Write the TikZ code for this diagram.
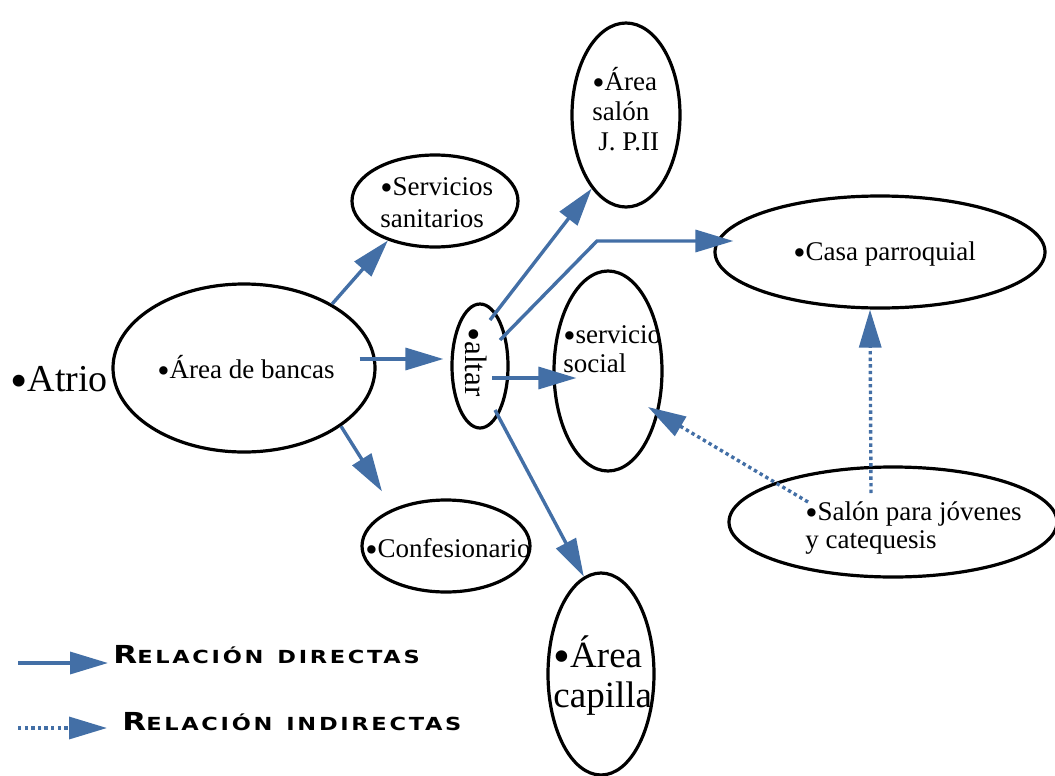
\documentclass[tikz,border=0pt]{standalone}
\usepackage{graphicx}
\usepackage{fontspec}
\setmainfont{Liberation Serif}
\newfontfamily\legfont[FakeStretch=1.25,LetterSpace=15]{DejaVu Sans}
\usetikzlibrary{shapes.geometric,arrows.meta}
\definecolor{flowblue}{RGB}{67,111,166}
\newcommand\bul{\raisebox{-0.16em}{\scalebox{1.3}{•}}}

\begin{document}
\begin{tikzpicture}[x=0.5pt,y=-0.5pt]
                \tikzset{ZoneStyle/.style={draw, ellipse, line width=1.6pt, inner sep=0pt}}
                \tikzset{TextStyle/.style={inner sep=0pt, anchor=base west, align=left, font=\fontsize{13.5pt}{15pt}\selectfont}}
                \tikzset{FlowStyle/.style={draw=flowblue, line width=1.7pt, -{Triangle[length=19pt,width=11pt]}}}
                \tikzset{LinkStyle/.style={FlowStyle, dash pattern=on 1.7pt off 1.6pt}}
                \useasboundingbox (0,0) rectangle (1055,776);
                \node[ZoneStyle, minimum width=131pt, minimum height=84pt] (bancas) at (244,368) {};
                \node[ZoneStyle, minimum width=83pt, minimum height=46pt] (servicios) at (435,201) {};
                \node[ZoneStyle, minimum width=84pt, minimum height=46pt] (confes) at (446,546) {};
                \node[ZoneStyle, minimum width=28pt, minimum height=62pt] (altar) at (480,366) {};
                \node[ZoneStyle, minimum width=54pt, minimum height=92pt] (salonjp) at (626,115) {};
                \node[ZoneStyle, minimum width=165pt, minimum height=56pt] (casa) at (880,252) {};
		\node[ZoneStyle, minimum width=54pt, minimum height=100pt] (social) at (608,371) {};
                \node[ZoneStyle, minimum width=164pt, minimum height=55pt] (jovenes) at (893,522) {};
		\node[ZoneStyle, minimum width=53pt, minimum height=101pt] (capilla) at (601,674) {};
                \node[TextStyle, font=\fontsize{19pt}{21pt}\selectfont] (atrioT) at (10,391) {\bul Atrio};
                \node[TextStyle] (bancasT) at (157,378) {\bul Área de bancas};
                \node[TextStyle, font=\fontsize{13.5pt}{16pt}\selectfont] (serviciosT) at (380,227) {\bul Servicios\\sanitarios};
                \node[TextStyle, anchor=center, rotate=-90, font=\fontsize{15.5pt}{17pt}\selectfont] (altarT) at (474,362) {\bul altar};
                \node[TextStyle] (confesT) at (365,557) {\bul Confesionario};
                \node[TextStyle] (salonjpT) at (592,150) {\bul Área\\salón\\\hspace*{3pt}J. P.II};
                \node[TextStyle] (casaT) at (793,260) {\bul Casa parroquial};
		\node[TextStyle, font=\fontsize{13.5pt}{14.5pt}\selectfont] (socialT) at (563,372) {\bul servicio\\social};
                \node[TextStyle, font=\fontsize{13.5pt}{14pt}\selectfont] (jovenesT) at (805,548) {\bul Salón para jóvenes\\y catequesis};
		\node[TextStyle, font=\fontsize{18.5pt}{20pt}\selectfont] (capillaT) at (553,707) {\bul Área\\capilla};
                \node[TextStyle, font=\legfont\bfseries] (directas) at (113,663) {{\fontsize{12.4pt}{14pt}\selectfont R}{\fontsize{9pt}{11pt}\selectfont ELACIÓN\hspace{7pt}DIRECTAS}};
                \node[TextStyle, font=\legfont\bfseries] (indirectas) at (122,730) {{\fontsize{12.4pt}{14pt}\selectfont R}{\fontsize{9pt}{11pt}\selectfont ELACIÓN\hspace{7pt}INDIRECTAS}};
                \coordinate (dirfrom) at (18,663);
                \coordinate (indfrom) at (18,728);
		\draw[FlowStyle] (bancas.36) -- (servicios.220);
		\draw[FlowStyle] ([xshift=-8.5pt,yshift=4.5pt]bancas.east) -- ([xshift=-3.5pt,yshift=3.5pt]altar.west);
		\draw[FlowStyle] (bancas.-31) -- ([xshift=-32pt,yshift=3.5pt]confes.north);
		\draw[FlowStyle] ([xshift=5pt,yshift=23pt]altar.center) -- (salonjp.245);
		\draw[FlowStyle] ([xshift=10pt,yshift=13pt]altar.center) -- ++(97,-99) -- ([xshift=10pt,yshift=5.5pt]casa.west);
		\draw[FlowStyle] ([xshift=6pt,yshift=-6pt]altar.center) -- ([xshift=12pt,yshift=-3.5pt]social.west);
		\draw[FlowStyle] ([xshift=7.5pt,yshift=-22pt]altar.center) -- (capilla.100);
		\draw[LinkStyle] ([xshift=-42.5pt,yshift=10pt]jovenes.center) -- ([xshift=20pt,yshift=-18pt]social.center);
		\draw[LinkStyle] ([xshift=-11pt,yshift=14.5pt]jovenes.center) -- ([xshift=-5pt]casa.south);
		\draw[FlowStyle] (dirfrom) -- ([xshift=-2.5pt]directas.base west);
		\draw[LinkStyle] (indfrom) -- ([xshift=-7.5pt,yshift=1pt]indirectas.base west);

            \end{tikzpicture}
\end{document}
